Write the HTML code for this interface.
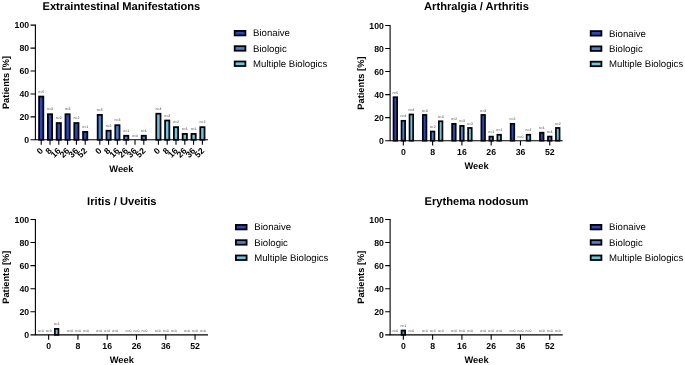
<!DOCTYPE html>
<html><head><meta charset="utf-8"><title>Extraintestinal manifestations</title>
<style>
html,body{margin:0;padding:0;background:#fff;}
body{width:685px;height:365px;overflow:hidden;font-family:"Liberation Sans",sans-serif;}
svg{display:block;}
</style></head><body>
<svg width="685" height="365" viewBox="0 0 685 365" text-rendering="geometricPrecision">
<rect width="685" height="365" fill="#fff"/>
<defs><filter id="gs" x="0" y="0" width="685" height="365" filterUnits="userSpaceOnUse" color-interpolation-filters="sRGB"><feColorMatrix type="saturate" values="0"/></filter></defs>
<g>
<path d="M35.4 24.6V140.35M34.85 139.8H208" stroke="#000" stroke-width="1.1" fill="none"/>
<path d="M30.5 25.15H35.4M30.5 48.08H35.4M30.5 71.01H35.4M30.5 93.94H35.4M30.5 116.87H35.4M30.5 139.8H35.4" stroke="#000" stroke-width="1.1" fill="none"/>
<rect x="39.08" y="96.58" width="4.25" height="43.22" fill="#2349c9" stroke="#000" stroke-width="1.75"/>
<rect x="47.88" y="114.22" width="4.25" height="25.58" fill="#2349c9" stroke="#000" stroke-width="1.75"/>
<rect x="56.67" y="123.04" width="4.25" height="16.76" fill="#2349c9" stroke="#000" stroke-width="1.75"/>
<rect x="65.47" y="114.22" width="4.25" height="25.58" fill="#2349c9" stroke="#000" stroke-width="1.75"/>
<rect x="74.27" y="123.04" width="4.25" height="16.76" fill="#2349c9" stroke="#000" stroke-width="1.75"/>
<rect x="83.07" y="131.86" width="4.25" height="7.94" fill="#2349c9" stroke="#000" stroke-width="1.75"/>
<rect x="97.67" y="114.88" width="4.25" height="24.92" fill="#3b86df" stroke="#000" stroke-width="1.75"/>
<rect x="106.47" y="130.7" width="4.25" height="9.1" fill="#3b86df" stroke="#000" stroke-width="1.75"/>
<rect x="115.27" y="125.2" width="4.25" height="14.6" fill="#3b86df" stroke="#000" stroke-width="1.75"/>
<rect x="124.07" y="135.75" width="4.25" height="4.05" fill="#3b86df" stroke="#000" stroke-width="1.75"/>
<rect x="141.67" y="135.75" width="4.25" height="4.05" fill="#3b86df" stroke="#000" stroke-width="1.75"/>
<rect x="156.28" y="113.73" width="4.25" height="26.07" fill="#63c8e8" stroke="#000" stroke-width="1.75"/>
<rect x="165.08" y="120.5" width="4.25" height="19.3" fill="#63c8e8" stroke="#000" stroke-width="1.75"/>
<rect x="173.88" y="127.15" width="4.25" height="12.65" fill="#63c8e8" stroke="#000" stroke-width="1.75"/>
<rect x="182.68" y="133.91" width="4.25" height="5.89" fill="#63c8e8" stroke="#000" stroke-width="1.75"/>
<rect x="191.48" y="133.91" width="4.25" height="5.89" fill="#63c8e8" stroke="#000" stroke-width="1.75"/>
<rect x="200.28" y="127.15" width="4.25" height="12.65" fill="#63c8e8" stroke="#000" stroke-width="1.75"/>
<path d="M41.2 139.8V144.7M50 139.8V144.7M58.8 139.8V144.7M67.6 139.8V144.7M76.4 139.8V144.7M85.2 139.8V144.7M99.8 139.8V144.7M108.6 139.8V144.7M117.4 139.8V144.7M126.2 139.8V144.7M135 139.8V144.7M143.8 139.8V144.7M158.4 139.8V144.7M167.2 139.8V144.7M176 139.8V144.7M184.8 139.8V144.7M193.6 139.8V144.7M202.4 139.8V144.7" stroke="#000" stroke-width="1.1" fill="none"/>
<rect x="234.7" y="30.9" width="10.7" height="4.5" fill="#2349c9" stroke="#000" stroke-width="1.8"/>
<rect x="234.7" y="46.2" width="10.7" height="4.5" fill="#3b86df" stroke="#000" stroke-width="1.8"/>
<rect x="234.7" y="61.5" width="10.7" height="4.5" fill="#63c8e8" stroke="#000" stroke-width="1.8"/>
<path d="M390.1 24.9V141.25M389.55 140.7H562.7" stroke="#000" stroke-width="1.1" fill="none"/>
<path d="M385.2 25.45H390.1M385.2 48.5H390.1M385.2 71.55H390.1M385.2 94.6H390.1M385.2 117.65H390.1M385.2 140.7H390.1" stroke="#000" stroke-width="1.1" fill="none"/>
<rect x="393.55" y="97.22" width="3.6" height="43.48" fill="#2349c9" stroke="#000" stroke-width="1.7"/>
<rect x="401.55" y="120.8" width="3.6" height="19.89" fill="#3b86df" stroke="#000" stroke-width="1.7"/>
<rect x="409.55" y="114.47" width="3.6" height="26.23" fill="#63c8e8" stroke="#000" stroke-width="1.7"/>
<rect x="422.83" y="114.95" width="3.6" height="25.75" fill="#2349c9" stroke="#000" stroke-width="1.7"/>
<rect x="430.83" y="131.52" width="3.6" height="9.18" fill="#3b86df" stroke="#000" stroke-width="1.7"/>
<rect x="438.83" y="121.27" width="3.6" height="19.43" fill="#63c8e8" stroke="#000" stroke-width="1.7"/>
<rect x="452.11" y="123.82" width="3.6" height="16.88" fill="#2349c9" stroke="#000" stroke-width="1.7"/>
<rect x="460.11" y="125.88" width="3.6" height="14.82" fill="#3b86df" stroke="#000" stroke-width="1.7"/>
<rect x="468.11" y="127.95" width="3.6" height="12.75" fill="#63c8e8" stroke="#000" stroke-width="1.7"/>
<rect x="481.39" y="114.95" width="3.6" height="25.75" fill="#2349c9" stroke="#000" stroke-width="1.7"/>
<rect x="489.39" y="136.59" width="3.6" height="4.11" fill="#3b86df" stroke="#000" stroke-width="1.7"/>
<rect x="497.39" y="134.75" width="3.6" height="5.95" fill="#63c8e8" stroke="#000" stroke-width="1.7"/>
<rect x="510.67" y="123.82" width="3.6" height="16.88" fill="#2349c9" stroke="#000" stroke-width="1.7"/>
<rect x="526.67" y="134.75" width="3.6" height="5.95" fill="#63c8e8" stroke="#000" stroke-width="1.7"/>
<rect x="539.95" y="132.68" width="3.6" height="8.02" fill="#2349c9" stroke="#000" stroke-width="1.7"/>
<rect x="547.95" y="136.59" width="3.6" height="4.11" fill="#3b86df" stroke="#000" stroke-width="1.7"/>
<rect x="555.95" y="127.95" width="3.6" height="12.75" fill="#63c8e8" stroke="#000" stroke-width="1.7"/>
<path d="M403.35 140.7V145.6M432.63 140.7V145.6M461.91 140.7V145.6M491.19 140.7V145.6M520.47 140.7V145.6M549.75 140.7V145.6" stroke="#000" stroke-width="1.1" fill="none"/>
<rect x="590.7" y="31.1" width="10.7" height="4.5" fill="#2349c9" stroke="#000" stroke-width="1.8"/>
<rect x="590.7" y="46.4" width="10.7" height="4.5" fill="#3b86df" stroke="#000" stroke-width="1.8"/>
<rect x="590.7" y="61.7" width="10.7" height="4.5" fill="#63c8e8" stroke="#000" stroke-width="1.8"/>
<path d="M35.4 218.95V335.4M34.85 334.85H208" stroke="#000" stroke-width="1.1" fill="none"/>
<path d="M30.5 219.5H35.4M30.5 242.57H35.4M30.5 265.64H35.4M30.5 288.71H35.4M30.5 311.78H35.4M30.5 334.85H35.4" stroke="#000" stroke-width="1.1" fill="none"/>
<rect x="54.85" y="328.89" width="3.6" height="5.96" fill="#63c8e8" stroke="#000" stroke-width="1.7"/>
<path d="M48.65 334.85V339.75M77.93 334.85V339.75M107.21 334.85V339.75M136.49 334.85V339.75M165.77 334.85V339.75M195.05 334.85V339.75" stroke="#000" stroke-width="1.1" fill="none"/>
<rect x="235.9" y="224.9" width="10.7" height="4.5" fill="#2349c9" stroke="#000" stroke-width="1.8"/>
<rect x="235.9" y="240.2" width="10.7" height="4.5" fill="#3b86df" stroke="#000" stroke-width="1.8"/>
<rect x="235.9" y="255.5" width="10.7" height="4.5" fill="#63c8e8" stroke="#000" stroke-width="1.8"/>
<path d="M390.1 218.95V335.4M389.55 334.85H562.7" stroke="#000" stroke-width="1.1" fill="none"/>
<path d="M385.2 219.5H390.1M385.2 242.57H390.1M385.2 265.64H390.1M385.2 288.71H390.1M385.2 311.78H390.1M385.2 334.85H390.1" stroke="#000" stroke-width="1.1" fill="none"/>
<rect x="401.55" y="330.51" width="3.6" height="4.34" fill="#3b86df" stroke="#000" stroke-width="1.7"/>
<path d="M403.35 334.85V339.75M432.63 334.85V339.75M461.91 334.85V339.75M491.19 334.85V339.75M520.47 334.85V339.75M549.75 334.85V339.75" stroke="#000" stroke-width="1.1" fill="none"/>
<rect x="590.7" y="224.9" width="10.7" height="4.5" fill="#2349c9" stroke="#000" stroke-width="1.8"/>
<rect x="590.7" y="240.2" width="10.7" height="4.5" fill="#3b86df" stroke="#000" stroke-width="1.8"/>
<rect x="590.7" y="255.5" width="10.7" height="4.5" fill="#63c8e8" stroke="#000" stroke-width="1.8"/>
</g>
<g filter="url(#gs)">
<text x="121.4" y="10.4" text-anchor="middle" font-size="11.15" font-weight="bold" font-family="Liberation Sans, sans-serif">Extraintestinal Manifestations</text>
<text x="29.1" y="28.2" text-anchor="end" font-size="8.7" font-weight="bold" font-family="Liberation Sans, sans-serif">100</text>
<text x="29.1" y="51.13" text-anchor="end" font-size="8.7" font-weight="bold" font-family="Liberation Sans, sans-serif">80</text>
<text x="29.1" y="74.06" text-anchor="end" font-size="8.7" font-weight="bold" font-family="Liberation Sans, sans-serif">60</text>
<text x="29.1" y="96.99" text-anchor="end" font-size="8.7" font-weight="bold" font-family="Liberation Sans, sans-serif">40</text>
<text x="29.1" y="119.92" text-anchor="end" font-size="8.7" font-weight="bold" font-family="Liberation Sans, sans-serif">20</text>
<text x="29.1" y="142.85" text-anchor="end" font-size="8.7" font-weight="bold" font-family="Liberation Sans, sans-serif">0</text>
<text transform="translate(9.1 82.48) rotate(-90)" text-anchor="middle" font-size="9.3" font-weight="bold" font-family="Liberation Sans, sans-serif">Patients [%]</text>
<text x="41.2" y="92.6" text-anchor="middle" font-size="3.5" fill="#3a3a3a" font-family="Liberation Sans, sans-serif">n=5</text>
<text transform="translate(43.6 151.4) rotate(-45)" text-anchor="end" font-size="8.7" font-weight="bold" font-family="Liberation Sans, sans-serif">0</text>
<text x="50" y="110.24" text-anchor="middle" font-size="3.5" fill="#3a3a3a" font-family="Liberation Sans, sans-serif">n=3</text>
<text transform="translate(52.4 151.4) rotate(-45)" text-anchor="end" font-size="8.7" font-weight="bold" font-family="Liberation Sans, sans-serif">8</text>
<text x="58.8" y="119.06" text-anchor="middle" font-size="3.5" fill="#3a3a3a" font-family="Liberation Sans, sans-serif">n=2</text>
<text transform="translate(61.2 151.4) rotate(-45)" text-anchor="end" font-size="8.7" font-weight="bold" font-family="Liberation Sans, sans-serif">16</text>
<text x="67.6" y="110.24" text-anchor="middle" font-size="3.5" fill="#3a3a3a" font-family="Liberation Sans, sans-serif">n=3</text>
<text transform="translate(70 151.4) rotate(-45)" text-anchor="end" font-size="8.7" font-weight="bold" font-family="Liberation Sans, sans-serif">26</text>
<text x="76.4" y="119.06" text-anchor="middle" font-size="3.5" fill="#3a3a3a" font-family="Liberation Sans, sans-serif">n=2</text>
<text transform="translate(78.8 151.4) rotate(-45)" text-anchor="end" font-size="8.7" font-weight="bold" font-family="Liberation Sans, sans-serif">36</text>
<text x="85.2" y="127.88" text-anchor="middle" font-size="3.5" fill="#3a3a3a" font-family="Liberation Sans, sans-serif">n=1</text>
<text transform="translate(87.6 151.4) rotate(-45)" text-anchor="end" font-size="8.7" font-weight="bold" font-family="Liberation Sans, sans-serif">52</text>
<text x="99.8" y="110.9" text-anchor="middle" font-size="3.5" fill="#3a3a3a" font-family="Liberation Sans, sans-serif">n=5</text>
<text transform="translate(102.2 151.4) rotate(-45)" text-anchor="end" font-size="8.7" font-weight="bold" font-family="Liberation Sans, sans-serif">0</text>
<text x="108.6" y="126.73" text-anchor="middle" font-size="3.5" fill="#3a3a3a" font-family="Liberation Sans, sans-serif">n=2</text>
<text transform="translate(111 151.4) rotate(-45)" text-anchor="end" font-size="8.7" font-weight="bold" font-family="Liberation Sans, sans-serif">8</text>
<text x="117.4" y="121.22" text-anchor="middle" font-size="3.5" fill="#3a3a3a" font-family="Liberation Sans, sans-serif">n=3</text>
<text transform="translate(119.8 151.4) rotate(-45)" text-anchor="end" font-size="8.7" font-weight="bold" font-family="Liberation Sans, sans-serif">16</text>
<text x="126.2" y="131.77" text-anchor="middle" font-size="3.5" fill="#3a3a3a" font-family="Liberation Sans, sans-serif">n=1</text>
<text transform="translate(128.6 151.4) rotate(-45)" text-anchor="end" font-size="8.7" font-weight="bold" font-family="Liberation Sans, sans-serif">26</text>
<text x="135" y="136.7" text-anchor="middle" font-size="3.5" fill="#3a3a3a" font-family="Liberation Sans, sans-serif">n=0</text>
<text transform="translate(137.4 151.4) rotate(-45)" text-anchor="end" font-size="8.7" font-weight="bold" font-family="Liberation Sans, sans-serif">36</text>
<text x="143.8" y="131.77" text-anchor="middle" font-size="3.5" fill="#3a3a3a" font-family="Liberation Sans, sans-serif">n=1</text>
<text transform="translate(146.2 151.4) rotate(-45)" text-anchor="end" font-size="8.7" font-weight="bold" font-family="Liberation Sans, sans-serif">52</text>
<text x="158.4" y="109.76" text-anchor="middle" font-size="3.5" fill="#3a3a3a" font-family="Liberation Sans, sans-serif">n=4</text>
<text transform="translate(160.8 151.4) rotate(-45)" text-anchor="end" font-size="8.7" font-weight="bold" font-family="Liberation Sans, sans-serif">0</text>
<text x="167.2" y="116.52" text-anchor="middle" font-size="3.5" fill="#3a3a3a" font-family="Liberation Sans, sans-serif">n=3</text>
<text transform="translate(169.6 151.4) rotate(-45)" text-anchor="end" font-size="8.7" font-weight="bold" font-family="Liberation Sans, sans-serif">8</text>
<text x="176" y="123.17" text-anchor="middle" font-size="3.5" fill="#3a3a3a" font-family="Liberation Sans, sans-serif">n=2</text>
<text transform="translate(178.4 151.4) rotate(-45)" text-anchor="end" font-size="8.7" font-weight="bold" font-family="Liberation Sans, sans-serif">16</text>
<text x="184.8" y="129.94" text-anchor="middle" font-size="3.5" fill="#3a3a3a" font-family="Liberation Sans, sans-serif">n=1</text>
<text transform="translate(187.2 151.4) rotate(-45)" text-anchor="end" font-size="8.7" font-weight="bold" font-family="Liberation Sans, sans-serif">26</text>
<text x="193.6" y="129.94" text-anchor="middle" font-size="3.5" fill="#3a3a3a" font-family="Liberation Sans, sans-serif">n=1</text>
<text transform="translate(196 151.4) rotate(-45)" text-anchor="end" font-size="8.7" font-weight="bold" font-family="Liberation Sans, sans-serif">36</text>
<text x="202.4" y="123.17" text-anchor="middle" font-size="3.5" fill="#3a3a3a" font-family="Liberation Sans, sans-serif">n=2</text>
<text transform="translate(204.8 151.4) rotate(-45)" text-anchor="end" font-size="8.7" font-weight="bold" font-family="Liberation Sans, sans-serif">52</text>
<text x="121.4" y="172" text-anchor="middle" font-size="9.3" font-weight="bold" font-family="Liberation Sans, sans-serif">Week</text>
<text x="253.1" y="36.3" font-size="9.6" fill="#000" font-family="Liberation Sans, sans-serif">Bionaive</text>
<text x="253.1" y="51.6" font-size="9.6" fill="#000" font-family="Liberation Sans, sans-serif">Biologic</text>
<text x="253.1" y="66.9" font-size="9.6" fill="#000" font-family="Liberation Sans, sans-serif">Multiple Biologics</text>
<text x="476.5" y="10.4" text-anchor="middle" font-size="11.15" font-weight="bold" font-family="Liberation Sans, sans-serif">Arthralgia / Arthritis</text>
<text x="383.8" y="28.5" text-anchor="end" font-size="8.7" font-weight="bold" font-family="Liberation Sans, sans-serif">100</text>
<text x="383.8" y="51.55" text-anchor="end" font-size="8.7" font-weight="bold" font-family="Liberation Sans, sans-serif">80</text>
<text x="383.8" y="74.6" text-anchor="end" font-size="8.7" font-weight="bold" font-family="Liberation Sans, sans-serif">60</text>
<text x="383.8" y="97.65" text-anchor="end" font-size="8.7" font-weight="bold" font-family="Liberation Sans, sans-serif">40</text>
<text x="383.8" y="120.7" text-anchor="end" font-size="8.7" font-weight="bold" font-family="Liberation Sans, sans-serif">20</text>
<text x="383.8" y="143.75" text-anchor="end" font-size="8.7" font-weight="bold" font-family="Liberation Sans, sans-serif">0</text>
<text transform="translate(363.8 83.07) rotate(-90)" text-anchor="middle" font-size="9.3" font-weight="bold" font-family="Liberation Sans, sans-serif">Patients [%]</text>
<text x="403.35" y="154.8" text-anchor="middle" font-size="8.7" font-weight="bold" font-family="Liberation Sans, sans-serif">0</text>
<text x="395.35" y="93.77" text-anchor="middle" font-size="3.5" fill="#3a3a3a" font-family="Liberation Sans, sans-serif">n=5</text>
<text x="403.35" y="117.35" text-anchor="middle" font-size="3.5" fill="#3a3a3a" font-family="Liberation Sans, sans-serif">n=4</text>
<text x="411.35" y="111.02" text-anchor="middle" font-size="3.5" fill="#3a3a3a" font-family="Liberation Sans, sans-serif">n=4</text>
<text x="432.63" y="154.8" text-anchor="middle" font-size="8.7" font-weight="bold" font-family="Liberation Sans, sans-serif">8</text>
<text x="424.63" y="111.5" text-anchor="middle" font-size="3.5" fill="#3a3a3a" font-family="Liberation Sans, sans-serif">n=3</text>
<text x="432.63" y="128.07" text-anchor="middle" font-size="3.5" fill="#3a3a3a" font-family="Liberation Sans, sans-serif">n=2</text>
<text x="440.63" y="117.82" text-anchor="middle" font-size="3.5" fill="#3a3a3a" font-family="Liberation Sans, sans-serif">n=3</text>
<text x="461.91" y="154.8" text-anchor="middle" font-size="8.7" font-weight="bold" font-family="Liberation Sans, sans-serif">16</text>
<text x="453.91" y="120.37" text-anchor="middle" font-size="3.5" fill="#3a3a3a" font-family="Liberation Sans, sans-serif">n=2</text>
<text x="461.91" y="122.43" text-anchor="middle" font-size="3.5" fill="#3a3a3a" font-family="Liberation Sans, sans-serif">n=3</text>
<text x="469.91" y="124.5" text-anchor="middle" font-size="3.5" fill="#3a3a3a" font-family="Liberation Sans, sans-serif">n=2</text>
<text x="491.19" y="154.8" text-anchor="middle" font-size="8.7" font-weight="bold" font-family="Liberation Sans, sans-serif">26</text>
<text x="483.19" y="111.5" text-anchor="middle" font-size="3.5" fill="#3a3a3a" font-family="Liberation Sans, sans-serif">n=3</text>
<text x="491.19" y="133.14" text-anchor="middle" font-size="3.5" fill="#3a3a3a" font-family="Liberation Sans, sans-serif">n=1</text>
<text x="499.19" y="131.3" text-anchor="middle" font-size="3.5" fill="#3a3a3a" font-family="Liberation Sans, sans-serif">n=1</text>
<text x="520.47" y="154.8" text-anchor="middle" font-size="8.7" font-weight="bold" font-family="Liberation Sans, sans-serif">36</text>
<text x="512.47" y="120.37" text-anchor="middle" font-size="3.5" fill="#3a3a3a" font-family="Liberation Sans, sans-serif">n=2</text>
<text x="520.47" y="138.1" text-anchor="middle" font-size="3.5" fill="#3a3a3a" font-family="Liberation Sans, sans-serif">n=0</text>
<text x="528.47" y="131.3" text-anchor="middle" font-size="3.5" fill="#3a3a3a" font-family="Liberation Sans, sans-serif">n=1</text>
<text x="549.75" y="154.8" text-anchor="middle" font-size="8.7" font-weight="bold" font-family="Liberation Sans, sans-serif">52</text>
<text x="541.75" y="129.23" text-anchor="middle" font-size="3.5" fill="#3a3a3a" font-family="Liberation Sans, sans-serif">n=1</text>
<text x="549.75" y="133.14" text-anchor="middle" font-size="3.5" fill="#3a3a3a" font-family="Liberation Sans, sans-serif">n=1</text>
<text x="557.75" y="124.5" text-anchor="middle" font-size="3.5" fill="#3a3a3a" font-family="Liberation Sans, sans-serif">n=2</text>
<text x="476.5" y="168.8" text-anchor="middle" font-size="9.3" font-weight="bold" font-family="Liberation Sans, sans-serif">Week</text>
<text x="609.1" y="36.5" font-size="9.6" fill="#000" font-family="Liberation Sans, sans-serif">Bionaive</text>
<text x="609.1" y="51.8" font-size="9.6" fill="#000" font-family="Liberation Sans, sans-serif">Biologic</text>
<text x="609.1" y="67.1" font-size="9.6" fill="#000" font-family="Liberation Sans, sans-serif">Multiple Biologics</text>
<text x="121.8" y="204.6" text-anchor="middle" font-size="11.15" font-weight="bold" font-family="Liberation Sans, sans-serif">Iritis / Uveitis</text>
<text x="29.1" y="222.55" text-anchor="end" font-size="8.7" font-weight="bold" font-family="Liberation Sans, sans-serif">100</text>
<text x="29.1" y="245.62" text-anchor="end" font-size="8.7" font-weight="bold" font-family="Liberation Sans, sans-serif">80</text>
<text x="29.1" y="268.69" text-anchor="end" font-size="8.7" font-weight="bold" font-family="Liberation Sans, sans-serif">60</text>
<text x="29.1" y="291.76" text-anchor="end" font-size="8.7" font-weight="bold" font-family="Liberation Sans, sans-serif">40</text>
<text x="29.1" y="314.83" text-anchor="end" font-size="8.7" font-weight="bold" font-family="Liberation Sans, sans-serif">20</text>
<text x="29.1" y="337.9" text-anchor="end" font-size="8.7" font-weight="bold" font-family="Liberation Sans, sans-serif">0</text>
<text transform="translate(9.1 277.18) rotate(-90)" text-anchor="middle" font-size="9.3" font-weight="bold" font-family="Liberation Sans, sans-serif">Patients [%]</text>
<text x="48.65" y="348.95" text-anchor="middle" font-size="8.7" font-weight="bold" font-family="Liberation Sans, sans-serif">0</text>
<text x="40.65" y="332.25" text-anchor="middle" font-size="3.5" fill="#3a3a3a" font-family="Liberation Sans, sans-serif">n=0</text>
<text x="48.65" y="332.25" text-anchor="middle" font-size="3.5" fill="#3a3a3a" font-family="Liberation Sans, sans-serif">n=0</text>
<text x="56.65" y="325.44" text-anchor="middle" font-size="3.5" fill="#3a3a3a" font-family="Liberation Sans, sans-serif">n=1</text>
<text x="77.93" y="348.95" text-anchor="middle" font-size="8.7" font-weight="bold" font-family="Liberation Sans, sans-serif">8</text>
<text x="69.93" y="332.25" text-anchor="middle" font-size="3.5" fill="#3a3a3a" font-family="Liberation Sans, sans-serif">n=0</text>
<text x="77.93" y="332.25" text-anchor="middle" font-size="3.5" fill="#3a3a3a" font-family="Liberation Sans, sans-serif">n=0</text>
<text x="85.93" y="332.25" text-anchor="middle" font-size="3.5" fill="#3a3a3a" font-family="Liberation Sans, sans-serif">n=0</text>
<text x="107.21" y="348.95" text-anchor="middle" font-size="8.7" font-weight="bold" font-family="Liberation Sans, sans-serif">16</text>
<text x="99.21" y="332.25" text-anchor="middle" font-size="3.5" fill="#3a3a3a" font-family="Liberation Sans, sans-serif">n=0</text>
<text x="107.21" y="332.25" text-anchor="middle" font-size="3.5" fill="#3a3a3a" font-family="Liberation Sans, sans-serif">n=0</text>
<text x="115.21" y="332.25" text-anchor="middle" font-size="3.5" fill="#3a3a3a" font-family="Liberation Sans, sans-serif">n=0</text>
<text x="136.49" y="348.95" text-anchor="middle" font-size="8.7" font-weight="bold" font-family="Liberation Sans, sans-serif">26</text>
<text x="128.49" y="332.25" text-anchor="middle" font-size="3.5" fill="#3a3a3a" font-family="Liberation Sans, sans-serif">n=0</text>
<text x="136.49" y="332.25" text-anchor="middle" font-size="3.5" fill="#3a3a3a" font-family="Liberation Sans, sans-serif">n=0</text>
<text x="144.49" y="332.25" text-anchor="middle" font-size="3.5" fill="#3a3a3a" font-family="Liberation Sans, sans-serif">n=0</text>
<text x="165.77" y="348.95" text-anchor="middle" font-size="8.7" font-weight="bold" font-family="Liberation Sans, sans-serif">36</text>
<text x="157.77" y="332.25" text-anchor="middle" font-size="3.5" fill="#3a3a3a" font-family="Liberation Sans, sans-serif">n=0</text>
<text x="165.77" y="332.25" text-anchor="middle" font-size="3.5" fill="#3a3a3a" font-family="Liberation Sans, sans-serif">n=0</text>
<text x="173.77" y="332.25" text-anchor="middle" font-size="3.5" fill="#3a3a3a" font-family="Liberation Sans, sans-serif">n=0</text>
<text x="195.05" y="348.95" text-anchor="middle" font-size="8.7" font-weight="bold" font-family="Liberation Sans, sans-serif">52</text>
<text x="187.05" y="332.25" text-anchor="middle" font-size="3.5" fill="#3a3a3a" font-family="Liberation Sans, sans-serif">n=0</text>
<text x="195.05" y="332.25" text-anchor="middle" font-size="3.5" fill="#3a3a3a" font-family="Liberation Sans, sans-serif">n=0</text>
<text x="203.05" y="332.25" text-anchor="middle" font-size="3.5" fill="#3a3a3a" font-family="Liberation Sans, sans-serif">n=0</text>
<text x="121.8" y="362.95" text-anchor="middle" font-size="9.3" font-weight="bold" font-family="Liberation Sans, sans-serif">Week</text>
<text x="254.3" y="230.3" font-size="9.6" fill="#000" font-family="Liberation Sans, sans-serif">Bionaive</text>
<text x="254.3" y="245.6" font-size="9.6" fill="#000" font-family="Liberation Sans, sans-serif">Biologic</text>
<text x="254.3" y="260.9" font-size="9.6" fill="#000" font-family="Liberation Sans, sans-serif">Multiple Biologics</text>
<text x="476.5" y="204.6" text-anchor="middle" font-size="11.15" font-weight="bold" font-family="Liberation Sans, sans-serif">Erythema nodosum</text>
<text x="383.8" y="222.55" text-anchor="end" font-size="8.7" font-weight="bold" font-family="Liberation Sans, sans-serif">100</text>
<text x="383.8" y="245.62" text-anchor="end" font-size="8.7" font-weight="bold" font-family="Liberation Sans, sans-serif">80</text>
<text x="383.8" y="268.69" text-anchor="end" font-size="8.7" font-weight="bold" font-family="Liberation Sans, sans-serif">60</text>
<text x="383.8" y="291.76" text-anchor="end" font-size="8.7" font-weight="bold" font-family="Liberation Sans, sans-serif">40</text>
<text x="383.8" y="314.83" text-anchor="end" font-size="8.7" font-weight="bold" font-family="Liberation Sans, sans-serif">20</text>
<text x="383.8" y="337.9" text-anchor="end" font-size="8.7" font-weight="bold" font-family="Liberation Sans, sans-serif">0</text>
<text transform="translate(363.8 277.18) rotate(-90)" text-anchor="middle" font-size="9.3" font-weight="bold" font-family="Liberation Sans, sans-serif">Patients [%]</text>
<text x="403.35" y="348.95" text-anchor="middle" font-size="8.7" font-weight="bold" font-family="Liberation Sans, sans-serif">0</text>
<text x="395.35" y="332.25" text-anchor="middle" font-size="3.5" fill="#3a3a3a" font-family="Liberation Sans, sans-serif">n=0</text>
<text x="403.35" y="327.06" text-anchor="middle" font-size="3.5" fill="#3a3a3a" font-family="Liberation Sans, sans-serif">n=1</text>
<text x="411.35" y="332.25" text-anchor="middle" font-size="3.5" fill="#3a3a3a" font-family="Liberation Sans, sans-serif">n=0</text>
<text x="432.63" y="348.95" text-anchor="middle" font-size="8.7" font-weight="bold" font-family="Liberation Sans, sans-serif">8</text>
<text x="424.63" y="332.25" text-anchor="middle" font-size="3.5" fill="#3a3a3a" font-family="Liberation Sans, sans-serif">n=0</text>
<text x="432.63" y="332.25" text-anchor="middle" font-size="3.5" fill="#3a3a3a" font-family="Liberation Sans, sans-serif">n=0</text>
<text x="440.63" y="332.25" text-anchor="middle" font-size="3.5" fill="#3a3a3a" font-family="Liberation Sans, sans-serif">n=0</text>
<text x="461.91" y="348.95" text-anchor="middle" font-size="8.7" font-weight="bold" font-family="Liberation Sans, sans-serif">16</text>
<text x="453.91" y="332.25" text-anchor="middle" font-size="3.5" fill="#3a3a3a" font-family="Liberation Sans, sans-serif">n=0</text>
<text x="461.91" y="332.25" text-anchor="middle" font-size="3.5" fill="#3a3a3a" font-family="Liberation Sans, sans-serif">n=0</text>
<text x="469.91" y="332.25" text-anchor="middle" font-size="3.5" fill="#3a3a3a" font-family="Liberation Sans, sans-serif">n=0</text>
<text x="491.19" y="348.95" text-anchor="middle" font-size="8.7" font-weight="bold" font-family="Liberation Sans, sans-serif">26</text>
<text x="483.19" y="332.25" text-anchor="middle" font-size="3.5" fill="#3a3a3a" font-family="Liberation Sans, sans-serif">n=0</text>
<text x="491.19" y="332.25" text-anchor="middle" font-size="3.5" fill="#3a3a3a" font-family="Liberation Sans, sans-serif">n=0</text>
<text x="499.19" y="332.25" text-anchor="middle" font-size="3.5" fill="#3a3a3a" font-family="Liberation Sans, sans-serif">n=0</text>
<text x="520.47" y="348.95" text-anchor="middle" font-size="8.7" font-weight="bold" font-family="Liberation Sans, sans-serif">36</text>
<text x="512.47" y="332.25" text-anchor="middle" font-size="3.5" fill="#3a3a3a" font-family="Liberation Sans, sans-serif">n=0</text>
<text x="520.47" y="332.25" text-anchor="middle" font-size="3.5" fill="#3a3a3a" font-family="Liberation Sans, sans-serif">n=0</text>
<text x="528.47" y="332.25" text-anchor="middle" font-size="3.5" fill="#3a3a3a" font-family="Liberation Sans, sans-serif">n=0</text>
<text x="549.75" y="348.95" text-anchor="middle" font-size="8.7" font-weight="bold" font-family="Liberation Sans, sans-serif">52</text>
<text x="541.75" y="332.25" text-anchor="middle" font-size="3.5" fill="#3a3a3a" font-family="Liberation Sans, sans-serif">n=0</text>
<text x="549.75" y="332.25" text-anchor="middle" font-size="3.5" fill="#3a3a3a" font-family="Liberation Sans, sans-serif">n=0</text>
<text x="557.75" y="332.25" text-anchor="middle" font-size="3.5" fill="#3a3a3a" font-family="Liberation Sans, sans-serif">n=0</text>
<text x="476.5" y="362.95" text-anchor="middle" font-size="9.3" font-weight="bold" font-family="Liberation Sans, sans-serif">Week</text>
<text x="609.1" y="230.3" font-size="9.6" fill="#000" font-family="Liberation Sans, sans-serif">Bionaive</text>
<text x="609.1" y="245.6" font-size="9.6" fill="#000" font-family="Liberation Sans, sans-serif">Biologic</text>
<text x="609.1" y="260.9" font-size="9.6" fill="#000" font-family="Liberation Sans, sans-serif">Multiple Biologics</text>
</g>
</svg>
</body></html>
